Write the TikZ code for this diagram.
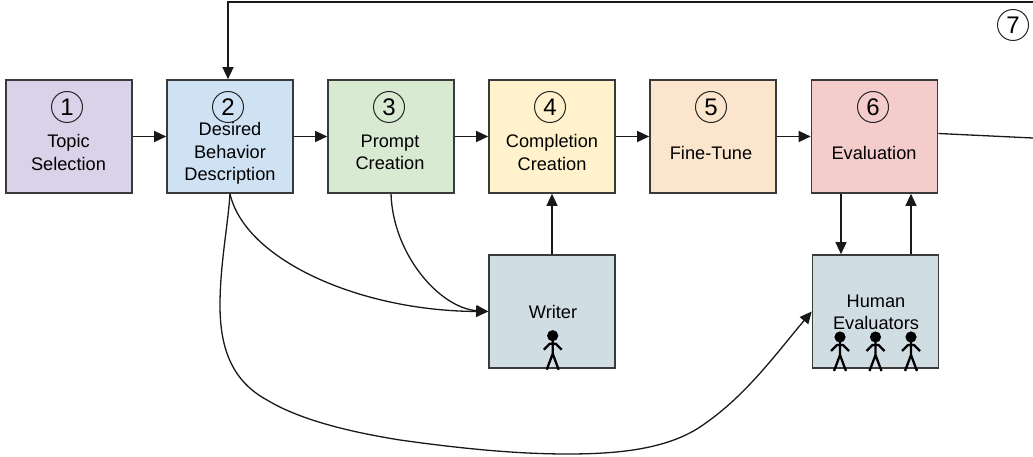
\documentclass[tikz,border=0pt]{standalone}
\usepackage{fontspec}
\setmainfont{Liberation Sans}
\usetikzlibrary{arrows.meta,calc}
\definecolor{cpurple}{HTML}{D9D2E9}
\definecolor{cblue}{HTML}{CFE2F3}
\definecolor{cgreen}{HTML}{D9EAD3}
\definecolor{cyellow}{HTML}{FFF2CC}
\definecolor{corange}{HTML}{FCE5CD}
\definecolor{cred}{HTML}{F4CCCC}
\definecolor{cgrey}{HTML}{D0DEE4}
\definecolor{cedge}{HTML}{3A3A3A}
\tikzset{
  stagebox/.style={draw=cedge,line width=1.6pt,minimum width=126pt,minimum height=113pt,inner sep=0pt},
  numcircle/.style={circle,draw=black!85,line width=1pt,minimum size=31pt,inner sep=0pt,font=\fontsize{24}{26}\selectfont},
  label/.style={align=center,inner sep=0pt,text=black,font=\fontsize{18.2}{22.4}\selectfont},
  conn/.style={draw=black!90,line width=1.3pt,-{Triangle[length=12pt,width=11pt]}},
  plainconn/.style={draw=black!90,line width=1.3pt},
  person/.pic={
    \fill[black] (0,0) circle (5.6pt);
    \draw[black,line width=2.3pt,line join=round] (0,4) -- (0,18) (-9,14) -- (-3,8) -- (3,8) -- (9,14) (-6,34) -- (0,18) -- (6,34);
  }
}
\begin{document}
\begin{tikzpicture}[x=1pt,y=-1pt]
\useasboundingbox (0,0) rectangle (1033,457);
\node[stagebox,fill=cpurple] (b1) at (69,136.5) {};
\node[stagebox,fill=cblue] (b2) at (230,136.5) {};
\node[stagebox,fill=cgreen] (b3) at (391,136.5) {};
\node[stagebox,fill=cyellow] (b4) at (552,136.5) {};
\node[stagebox,fill=corange] (b5) at (713,136.5) {};
\node[stagebox,fill=cred] (b6) at (874.5,136.5) {};
\node[stagebox,fill=cgrey] (writer) at (552,311.5) {};
\node[stagebox,fill=cgrey] (human) at (875.5,311.5) {};

\node[numcircle] (n1) at (67,107) {1};
\node[numcircle] (n2) at (228,107) {2};
\node[numcircle] (n3) at (389,107) {3};
\node[numcircle] (n4) at (550,107) {4};
\node[numcircle] (n5) at (711,107) {5};
\node[numcircle] (n6) at (873,107) {6};
\node[numcircle] (n7) at (1013,25) {7};

\node[label] (t1) at (68.5,152.5) {Topic\\Selection};
\node[label] (t2) at (230,153.5) {Desired\\Behavior\\Description};
\node[label] (t3) at (390,152.5) {Prompt\\Creation};
\node[label] (t4) at (552,152.5) {Completion\\Creation};
\node[label] (t5) at (711,153) {Fine-Tune};
\node[label] (t6) at (874,153) {Evaluation};
\node[label] (t7) at (553,312) {Writer};
\node[label] (t8) at (876,312.5) {Human\\Evaluators};

\pic at (552.7,335.7) {person};
\pic at (840,337) {person};
\pic at (875.5,337) {person};
\pic at (911,337) {person};

\coordinate (topright) at (1033,2);
\coordinate (topleft) at (228,2);
\coordinate (outright) at (1033,138);

\draw[conn] (b1) -- (b2);
\draw[conn] (b2) -- (b3);
\draw[conn] (b3) -- (b4);
\draw[conn] (b4) -- (b5);
\draw[conn] (b5) -- (b6);
\draw[conn] (topright) -- (topleft) -- (b2.north -| topleft);
\draw[plainconn] ([yshift=3pt]b6.east) -- (outright);
\draw[conn] (writer.north) -- (b4.south -| writer.north);
\draw[conn] (b6.south -| 841,0) -- (human.north -| 841,0);
\draw[conn] (human.north -| 911,0) -- (b6.south -| 911,0);
\draw[conn] (b3.south) .. controls (393,255) and (440,308) .. (writer.west);
\draw[conn] (b2.south) .. controls (245,260) and (360,311) .. (writer.west);
\draw[conn] (b2.south) .. controls (228,225) and (220,265) .. (220,305)
  .. controls (220,345) and (230,380) .. (267,400)
  .. controls (300,420) and (350,432) .. (400,440)
  .. controls (450,447) and (510,454) .. (567,454)
  .. controls (615,454) and (665,450) .. (700,427)
  .. controls (745,397) and (775,355) .. (human.west);
\end{tikzpicture}
\end{document}
